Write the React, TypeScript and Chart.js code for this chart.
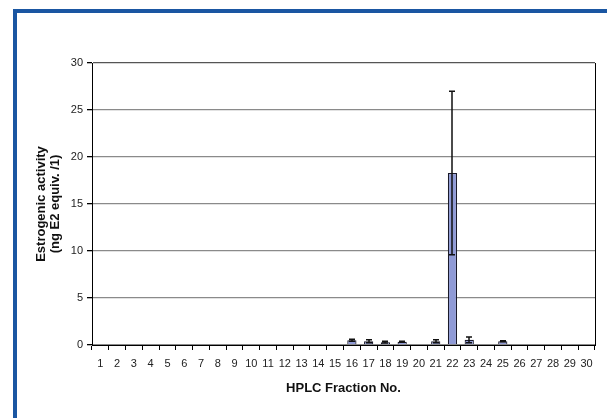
import React, { useEffect, useRef } from "react";
import { Chart, registerables } from "chart.js";

Chart.register(...registerables);

const categories: string[] = Array.from({ length: 30 }, (_, i) => String(i + 1));
const fractionNos: number[] = [16, 17, 18, 19, 21, 22, 23, 25];
const activity: number[] = [0.5, 0.4, 0.3, 0.35, 0.4, 18.3, 0.55, 0.4];
const errors: number[] = [0.1, 0.15, 0.1, 0.05, 0.15, 8.7, 0.3, 0.05];
const yTicks: number[] = [0, 5, 10, 15, 20, 25, 30];

const values: (number | null)[] = categories.map((c) => {
  const idx = fractionNos.indexOf(Number(c));
  return idx >= 0 ? activity[idx] : null;
});
const errs: (number | null)[] = categories.map((c) => {
  const idx = fractionNos.indexOf(Number(c));
  return idx >= 0 ? errors[idx] : null;
});

const errorBarPlugin = {
  id: "errorBars",
  afterDatasetsDraw(chart: any) {
    const { ctx, chartArea } = chart;
    const meta = chart.getDatasetMeta(0);
    const yScale = chart.scales.y;
    ctx.save();
    ctx.strokeStyle = "#111";
    ctx.lineWidth = 1.5;
    meta.data.forEach((bar: any, i: number) => {
      const v = values[i];
      const e = errs[i];
      if (v == null || e == null) return;
      const x = Math.round(bar.x);
      const yHi = yScale.getPixelForValue(v + e);
      const yLo = yScale.getPixelForValue(Math.max(0, v - e));
      ctx.beginPath();
      ctx.moveTo(x, yLo);
      ctx.lineTo(x, yHi);
      ctx.moveTo(x - 3, yHi);
      ctx.lineTo(x + 3, yHi);
      ctx.moveTo(x - 3, yLo);
      ctx.lineTo(x + 3, yLo);
      ctx.stroke();
    });
    // right border of plot area
    ctx.lineWidth = 1;
    ctx.strokeStyle = "#000";
    ctx.beginPath();
    const rx = Math.round(chartArea.right) + 0.5;
    ctx.moveTo(rx, chartArea.top);
    ctx.lineTo(rx, chartArea.bottom);
    ctx.stroke();
    ctx.restore();
  },
};

export default function App() {
  const ref = useRef<HTMLCanvasElement | null>(null);
  useEffect(() => {
    if (!ref.current) return;
    const chart = new Chart(ref.current, {
      type: "bar",
      data: {
        labels: categories,
        datasets: [
          {
            data: values,
            backgroundColor: "#8f9ad6",
            borderColor: "#1a1a2a",
            borderWidth: 1.2,
            barPercentage: 0.55,
            categoryPercentage: 1,
          },
        ],
      },
      options: {
        responsive: false,
        animation: false,
        layout: { padding: { left: 0, top: 63, right: 12, bottom: 0 } },
        plugins: { legend: { display: false }, tooltip: { enabled: false } },
        scales: {
          x: {
            grid: {
              display: true,
              drawOnChartArea: false,
              drawTicks: true,
              tickLength: 5,
              offset: true,
              tickColor: "#000",
            },
            border: { color: "#000", width: 1 },
            ticks: {
              color: "#222",
              font: { family: "'Liberation Sans', Arial, sans-serif", size: 11 },
              padding: 7,
              maxRotation: 0,
              autoSkip: false,
            },
            title: {
              display: true,
              text: "HPLC Fraction No.",
              color: "#111",
              font: { family: "'Liberation Sans', Arial, sans-serif", size: 13, weight: "bold" },
              padding: { top: 0, bottom: 22 },
            },
            afterFit: (s: any) => {
              s.height = 73;
            },
          },
          y: {
            min: 0,
            max: 30,
            afterBuildTicks: (s: any) => {
              s.ticks = yTicks.map((v) => ({ value: v }));
            },
            grid: {
              color: (c: any) => (c.tick && c.tick.value === 30 ? "#555" : "#8a8a8a"),
              lineWidth: 1.3,
              drawTicks: true,
              tickLength: 5,
              tickColor: "#000",
            },
            border: { color: "#000", width: 1 },
            ticks: {
              color: "#222",
              font: { family: "'Liberation Sans', Arial, sans-serif", size: 11 },
              padding: 4,
            },
            title: {
              display: true,
              text: ["Estrogenic activity", "(ng E2 equiv. /1)"],
              color: "#111",
              font: { family: "'Liberation Sans', Arial, sans-serif", size: 13, weight: "bold", lineHeight: 1.05 },
              padding: { top: 35, bottom: 0 },
            },
            afterFit: (s: any) => {
              s.width = 92;
            },
          },
        },
      },
      plugins: [errorBarPlugin],
    });
    return () => chart.destroy();
  }, []);

  return (
    <div style={{ position: "fixed", left: 0, top: 0, width: 607, height: 418, background: "#fff" }}>
      <div
        style={{
          position: "absolute",
          left: 13,
          top: 9,
          right: 0,
          bottom: 0,
          borderTop: "4px solid #1a56a2",
          borderLeft: "4px solid #1a56a2",
        }}
      />
      <canvas ref={ref} width={607} height={418} style={{ position: "absolute", left: 0, top: 0 }} />
    </div>
  );
}
